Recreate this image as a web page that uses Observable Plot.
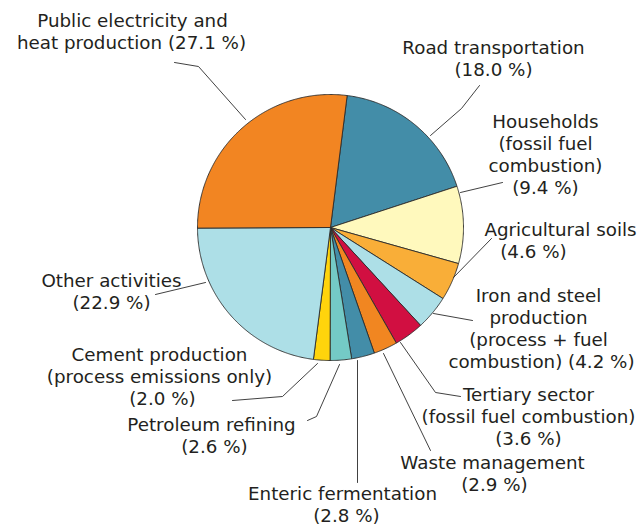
<!DOCTYPE html>
<html><head><meta charset="utf-8">
<script src="https://cdn.jsdelivr.net/npm/d3@7"></script>
<script src="https://cdn.jsdelivr.net/npm/@observablehq/plot@0.6"></script>
<style>body{margin:0;background:#fff}</style>
</head><body><div id="chart"></div>
<script>
// ---- data ----
const categories = ["Road transportation","Households","Agricultural soils","Iron and steel production","Tertiary sector","Waste management","Enteric fermentation","Petroleum refining","Cement production","Other activities","Public electricity and heat production"];
const values = [18.0, 9.4, 4.6, 4.2, 3.6, 2.9, 2.8, 2.6, 2.0, 22.9, 27.1];
const labelLines = [
  ["Road transportation", "{p}"],
  ["Households", "(fossil fuel", "combustion)", "{p}"],
  ["Agricultural soils", "{p}"],
  ["Iron and steel", "production", "(process + fuel", "combustion) {p}"],
  ["Tertiary sector", "(fossil fuel combustion)", "{p}"],
  ["Waste management", "{p}"],
  ["Enteric fermentation", "{p}"],
  ["Petroleum refining", "{p}"],
  ["Cement production", "(process emissions only)", "{p}"],
  ["Other activities", "{p}"],
  ["Public electricity and", "heat production {p}"]
];
// ---- styles ----
const palette = ["#438DA8","#FFF9BD","#F9AE38","#ADDFE7","#D10F41","#F18621","#438DA8","#74CAC6","#FFD40C","#ADDFE7","#F28522"];
// ---- layout ----
const W = 640, H = 526, CX = 330, CY = 227, R = 133, START_DEG = 7.2, LINE_GAP = 22;
const labelX = [[493,493],[545,545,545,545],[560,533],[538,538,538,541],[528,528,528],[492,494],[342,346],[211,214],[159,159,162],[111,111],[132,131]];
const labelY = [48, 122, 230, 296, 395, 463, 494, 425, 355, 281, 21];
const leaders = [
  [[479,85],[461,108],[430,135]],
  [[502,182],[460,192]],
  [[491,238],[453,277]],
  [[472,320],[433,313]],
  [[460,396],[435,392],[400,342]],
  [[430,450],[383,353]],
  [[357,482],[357,360]],
  [[307,420],[316,416],[339,364]],
  [[232,400],[282,396],[317,363]],
  [[155,294],[205,282]],
  [[174,62],[198,66],[245,119]]
];

const rad = d => d * Math.PI / 180;
const arcs = d3.pie().sort(null).value(d => d).startAngle(rad(START_DEG)).endAngle(rad(START_DEG + 360))(values);
const slicePts = [];
arcs.forEach((a, i) => {
  const k = categories[i], color = palette[i];
  slicePts.push({k, color, x: CX, y: CY});
  const n = Math.max(2, Math.ceil((a.endAngle - a.startAngle) / rad(0.5)));
  for (let j = 0; j <= n; j++) {
    const t = a.startAngle + (a.endAngle - a.startAngle) * j / n;
    slicePts.push({k, color, x: CX + R * Math.sin(t), y: CY - R * Math.cos(t)});
  }
  slicePts.push({k, color, x: CX, y: CY});
});
const leaderPts = leaders.flatMap((pts, i) => pts.map(([x, y]) => ({k: categories[i], x, y})));
const textRows = labelLines.flatMap((lines, i) => lines.map((s, j) => ({
  text: s.replace("{p}", `(${values[i].toFixed(1)} %)`),
  x: labelX[i][j], y: labelY[i] + j * LINE_GAP
})));

const chart = Plot.plot({
  width: W, height: H, margin: 0,
  x: {domain: [0, W], range: [0, W], axis: null},
  y: {domain: [0, H], range: [0, H], axis: null},
  color: {type: "identity"},
  style: {fontFamily: "'DejaVu Sans', Verdana, sans-serif", background: "#fff"},
  marks: [
    Plot.line(slicePts, {x: "x", y: "y", z: "k", fill: "color", stroke: "#2b2b2b", strokeWidth: 0.9, strokeLinejoin: "round"}),
    Plot.line(leaderPts, {x: "x", y: "y", z: "k", stroke: "#2b2b2b", strokeWidth: 0.9}),
    Plot.text(textRows, {x: "x", y: "y", text: "text", fontSize: 18.3, fill: "#231f20", textAnchor: "middle"})
  ]
});
document.getElementById("chart").appendChild(chart);
</script>
</body></html>
